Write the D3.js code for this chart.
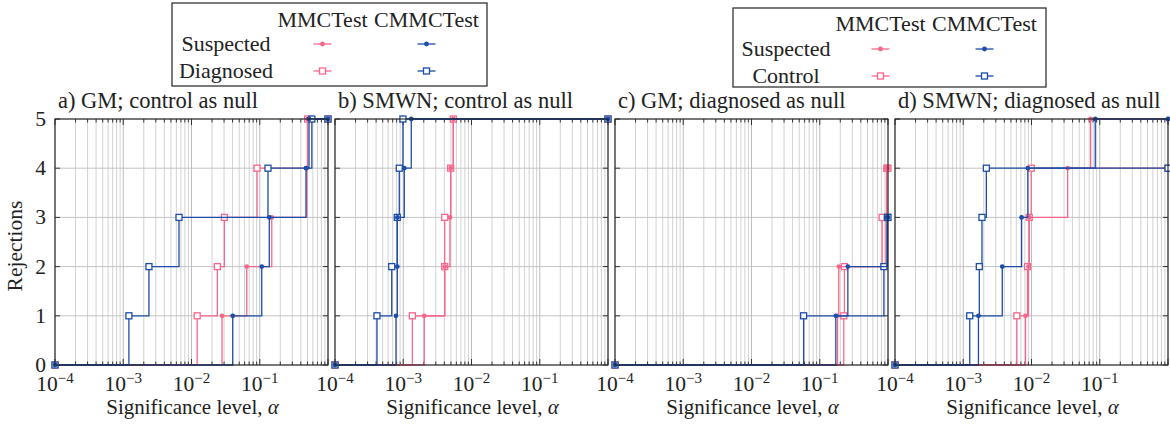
<!DOCTYPE html>
<html><head><meta charset="utf-8">
<script src="https://cdn.jsdelivr.net/npm/d3@7"></script>
<style>body{margin:0;background:#fff}svg{display:block}</style>
</head><body>
<svg id="c" width="1170" height="426"></svg>
<script>
// ---- data ----
const panelTitles = ["a) GM; control as null","b) SMWN; control as null","c) GM; diagnosed as null","d) SMWN; diagnosed as null"];
// p-values (significance level at which each additional rejection occurs), one array per panel
const mmcSuspected = [
  [0.028, 0.0645, 0.150, 0.49, 0.50],
  [0.00203, 0.00405, 0.00484, 0.00495, 0.00541],
  [0.182, 0.19, 0.93, 0.95],
  [0.00817, 0.00904, 0.00925, 0.0339, 0.0735]
];
const mmcDiagnosed = [
  [0.0121, 0.0239, 0.0303, 0.0912, 0.503],
  [0.00136, 0.00405, 0.00405, 0.00495, 0.00541],
  [0.225, 0.23, 0.82, 0.96],
  [0.0061, 0.00875, 0.00925, 0.0099]
];
const cmmcSuspected = [
  [0.0402, 0.107, 0.138, 0.476, 0.527],
  [0.000783, 0.000818, 0.00082, 0.001035, 0.00131],
  [0.172, 0.258, 0.97],
  [0.00167, 0.00373, 0.00716, 0.00884, 0.0859]
];
const cmmcDiagnosed = [
  [0.00121, 0.00238, 0.00656, 0.132, 0.58],
  [0.000412, 0.000678, 0.000818, 0.000875, 0.00099],
  [0.058, 0.87, 0.98],
  [0.001245, 0.00172, 0.00188, 0.00218]
];
const xTickExps = [-4, -3, -2, -1];
const yTicks = [0, 1, 2, 3, 4, 5];
const legendColumns = ["MMCTest", "CMMCTest"];
const legend1Rows = ["Suspected", "Diagnosed"];
const legend2Rows = ["Suspected", "Control"];

// ---- style ----
const FONT = "'Liberation Serif', 'DejaVu Serif', 'Times New Roman', serif";
const PINK = "#f8678b", BLUE = "#1c4da8";
const svg = d3.select("#c").attr("font-family", FONT).style("font-family", FONT);
const lefts = [55, 335, 615, 895], W = 273, TOP = 119, BOT = 365;
const y = d3.scaleLinear().domain([0, 5]).range([BOT, TOP]);

const seriesDefs = [
  {data: mmcDiagnosed, color: PINK, shape: "square"},
  {data: mmcSuspected, color: PINK, shape: "dot"},
  {data: cmmcDiagnosed, color: BLUE, shape: "square"},
  {data: cmmcSuspected, color: BLUE, shape: "dot"}
];

function txt(g) {
  return g.append("text").attr("font-family", FONT).attr("fill", "#222");
}

function drawMarker(g, cx, cy, shape, color) {
  if (shape === "square") {
    g.append("rect").attr("x", cx - 3).attr("y", cy - 3).attr("width", 6).attr("height", 6)
      .attr("fill", "#fff").attr("stroke", color).attr("stroke-width", 1.3);
  } else {
    g.append("circle").attr("cx", cx).attr("cy", cy).attr("r", 2.4).attr("fill", color);
  }
}

panelTitles.forEach((title, i) => {
  const L = lefts[i];
  const x = d3.scaleLog().domain([1e-4, 1]).range([L, L + W]);
  const g = svg.append("g");
  g.append("rect").attr("x", L - 3).attr("y", TOP - 2).attr("width", W + 6).attr("height", BOT - TOP + 40).attr("fill", "#fff");
  // grid
  const gridVals = [];
  for (let e = -4; e < 0; e++) for (let m = 1; m <= 9; m++) gridVals.push(m * Math.pow(10, e));
  gridVals.push(1);
  const major = xTickExps.map(e => Math.pow(10, e)).concat([1]);
  const isMajor = v => major.some(m => Math.abs(Math.log10(v) - Math.log10(m)) < 1e-9);
  g.selectAll(null).data(gridVals).enter().append("line")
    .attr("x1", d => x(d)).attr("x2", d => x(d)).attr("y1", TOP).attr("y2", BOT)
    .attr("stroke", d => isMajor(d) ? "#bdbdbd" : "#d2d2d2").attr("stroke-width", 1);
  g.selectAll(null).data(yTicks).enter().append("line")
    .attr("x1", L).attr("x2", L + W).attr("y1", d => y(d)).attr("y2", d => y(d))
    .attr("stroke", "#c4c4c4").attr("stroke-width", 1);
  // ticks (inside)
  gridVals.forEach(v => {
    const len = isMajor(v) ? 6 : 3.5;
    g.append("line").attr("x1", x(v)).attr("x2", x(v)).attr("y1", BOT).attr("y2", BOT - len).attr("stroke", "#222").attr("stroke-width", 0.9);
    g.append("line").attr("x1", x(v)).attr("x2", x(v)).attr("y1", TOP).attr("y2", TOP + len).attr("stroke", "#222").attr("stroke-width", 0.9);
  });
  yTicks.forEach(t => {
    g.append("line").attr("x1", L).attr("x2", L + 5).attr("y1", y(t)).attr("y2", y(t)).attr("stroke", "#222").attr("stroke-width", 0.9);
    g.append("line").attr("x1", L + W).attr("x2", L + W - 5).attr("y1", y(t)).attr("y2", y(t)).attr("stroke", "#222").attr("stroke-width", 0.9);
  });
  // series
  const line = d3.line().x(d => x(d[0])).y(d => y(d[1])).curve(d3.curveStepAfter);
  seriesDefs.forEach(s => {
    const ps = s.data[i].slice().sort((a, b) => a - b);
    const pts = [[1e-4, 0]].concat(ps.map((p, k) => [p, k + 1])).concat([[1, ps.length]]);
    g.append("path").attr("d", line(pts)).attr("fill", "none").attr("stroke", s.color).attr("stroke-width", 1.3);
    pts.forEach(p => drawMarker(g, x(p[0]), y(p[1]), s.shape, s.color));
  });
  // frame
  g.append("rect").attr("x", L).attr("y", TOP).attr("width", W).attr("height", BOT - TOP)
    .attr("fill", "none").attr("stroke", "#222").attr("stroke-width", 1.1);
  // x tick labels
  xTickExps.forEach(e => {
    const t = txt(g).attr("x", x(Math.pow(10, e))).attr("y", 391).attr("text-anchor", "middle").attr("font-size", 21.5);
    t.append("tspan").text("10");
    t.append("tspan").attr("dy", -8).attr("font-size", 15).text("\u2212" + Math.abs(e));
  });
  const xl = txt(g).attr("x", L + W / 2 + 1).attr("y", 414).attr("text-anchor", "middle").attr("font-size", 21);
  xl.append("tspan").text("Significance level, ");
  xl.append("tspan").attr("font-style", "italic").text("α");
  txt(g).attr("x", L + 3).attr("y", 108).attr("font-size", 22.5).text(title);
  if (i === 0) {
    yTicks.forEach(t => txt(g).attr("x", 46).attr("y", y(t) + 7).attr("text-anchor", "end").attr("font-size", 21.5).text(t));
    txt(g).attr("transform", "translate(22,246) rotate(-90)").attr("text-anchor", "middle").attr("font-size", 21.5).text("Rejections");
  }
});

// legends
function legend(box, rows, rowCx, colCx, headY, rowY) {
  const g = svg.append("g");
  g.append("rect").attr("x", box[0]).attr("y", box[1]).attr("width", box[2]).attr("height", box[3])
    .attr("fill", "#fff").attr("stroke", "#333").attr("stroke-width", 1.3);
  legendColumns.forEach((c, j) => txt(g).attr("x", colCx[j]).attr("y", headY).attr("text-anchor", "middle").attr("font-size", 22).text(c));
  rows.forEach((r, k) => {
    txt(g).attr("x", rowCx).attr("y", rowY[k] + 6).attr("text-anchor", "middle").attr("font-size", 22).text(r);
    [PINK, BLUE].forEach((col, j) => {
      g.append("line").attr("x1", colCx[j] - 9).attr("x2", colCx[j] + 9).attr("y1", rowY[k] - 1).attr("y2", rowY[k] - 1)
        .attr("stroke", col).attr("stroke-width", 1.3);
      drawMarker(g, colCx[j], rowY[k] - 1, k === 0 ? "dot" : "square", col);
    });
  });
}
legend([172, 3, 315, 83], legend1Rows, 226, [322.5, 426.5], 27, [45, 72]);
legend([733, 8, 313, 79], legend2Rows, 786, [880.5, 984.5], 31, [50, 77]);
</script>
</body></html>
